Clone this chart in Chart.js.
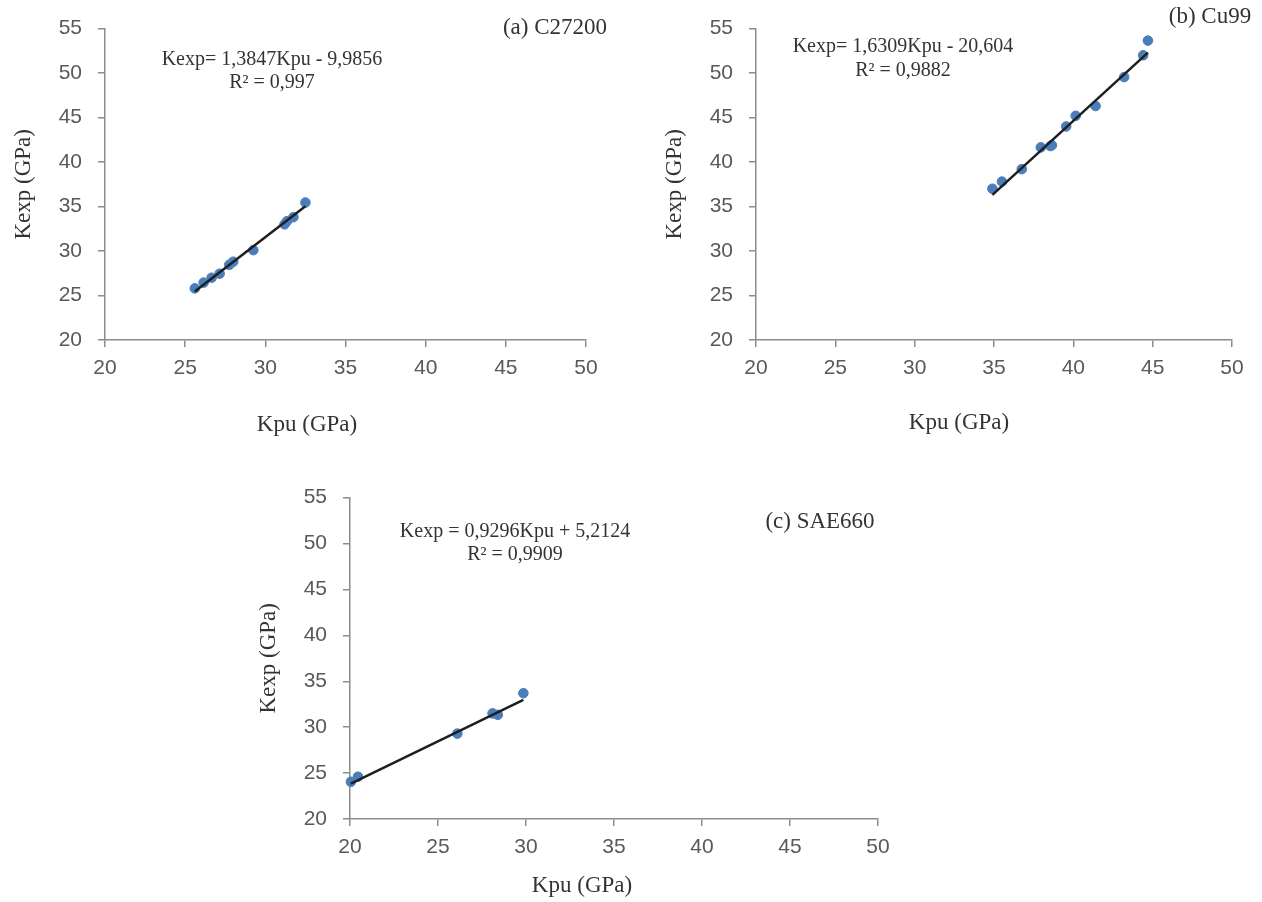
<!DOCTYPE html>
<html>
<head>
<meta charset="utf-8">
<script src="https://cdn.jsdelivr.net/npm/chart.js@4.4.1/dist/chart.umd.min.js"></script>
<style>
  body { margin: 0; background: #fff; width: 1262px; height: 902px; overflow: hidden; position: relative; }
  canvas { position: absolute; }
</style>
</head>
<body>
<canvas id="chartA" width="620" height="450" style="left:0px;top:0px"></canvas>
<canvas id="chartB" width="611" height="450" style="left:651px;top:0px"></canvas>
<canvas id="chartC" width="660" height="433" style="left:245px;top:469px"></canvas>
<script>
// (a) C27200
const kpuA = [25.6, 26.15, 26.65, 27.15, 27.75, 28.0, 29.25, 31.2, 31.35, 31.75, 32.5];
const kexpA = [25.8, 26.45, 27.0, 27.45, 28.45, 28.8, 30.1, 33.0, 33.35, 33.8, 35.45];
const trendKpuA = [25.6, 32.5];
const trendKexpA = [25.46, 35.02];

// (b) Cu99
const kpuB = [34.9, 35.5, 36.75, 37.95, 38.55, 38.65, 39.55, 40.15, 41.4, 43.2, 44.4, 44.7];
const kexpB = [37.0, 37.8, 39.2, 41.65, 41.8, 41.9, 44.0, 45.2, 46.3, 49.55, 52.0, 53.65];
const trendKpuB = [34.9, 44.7];
const trendKexpB = [36.31, 52.3];

// (c) SAE660
const kpuC = [20.05, 20.45, 26.1, 28.1, 28.4, 29.85];
const kexpC = [24.05, 24.6, 29.3, 31.5, 31.35, 33.7];
const trendKpuC = [20.05, 29.85];
const trendKexpC = [23.85, 32.96];

const xTicks = [20, 25, 30, 35, 40, 45, 50];
const yTicks = [20, 25, 30, 35, 40, 45, 50, 55];

const serif = '"Liberation Serif", "Times New Roman", serif';
const sans = '"Liberation Sans", Arial, sans-serif';
const axisGrey = '#8c8c8c';

// draws the free texts (equations, panel label, x axis title)
function notes(items) {
  return {
    id: 'notes',
    afterDraw(chart) {
      const c = chart.ctx;
      c.save();
      c.fillStyle = '#333';
      c.textAlign = 'center';
      c.textBaseline = 'middle';
      items.forEach(it => {
        c.font = it.size + 'px ' + serif;
        c.fillText(it.text, it.x, it.y);
      });
      c.restore();
    }
  };
}

function makeChart(id, kpu, kexp, tKpu, tKexp, padRight, xHeight, items) {
  const pts = kpu.map((v, i) => ({ x: v, y: kexp[i] }));
  const line = tKpu.map((v, i) => ({ x: v, y: tKexp[i] }));
  new Chart(document.getElementById(id), {
    type: 'scatter',
    data: {
      datasets: [
        {
          type: 'line',
          data: line,
          borderColor: '#1e1e1e',
          borderWidth: 2.5,
          pointRadius: 0,
          fill: false,
          clip: false,
          order: 0
        },
        {
          data: pts,
          backgroundColor: '#4a7ebb',
          borderColor: '#4a7ebb',
          pointRadius: 4.8,
          clip: false,
          order: 1
        }
      ]
    },
    options: {
      responsive: false,
      animation: false,
      layout: { padding: { left: 0, top: 25, right: padRight, bottom: 0 } },
      plugins: { legend: { display: false }, tooltip: { enabled: false } },
      scales: {
        x: {
          type: 'linear',
          min: xTicks[0],
          max: xTicks[xTicks.length - 1],
          afterBuildTicks: s => { s.ticks = xTicks.map(v => ({ value: v })); },
          afterFit: s => { s.height = xHeight; },
          ticks: { color: '#595959', font: { family: sans, size: 21 }, padding: 9, maxRotation: 0 },
          grid: { drawOnChartArea: false, drawTicks: true, tickLength: 7, color: axisGrey, lineWidth: 1.5 },
          border: { color: axisGrey, width: 1.5 }
        },
        y: {
          type: 'linear',
          min: yTicks[0],
          max: yTicks[yTicks.length - 1],
          afterBuildTicks: s => { s.ticks = yTicks.map(v => ({ value: v })); },
          afterFit: s => { s.width = 105; },
          ticks: { color: '#595959', font: { family: sans, size: 21 }, padding: 16 },
          grid: { drawOnChartArea: false, drawTicks: true, tickLength: 7, color: axisGrey, lineWidth: 1.5 },
          border: { color: axisGrey, width: 1.5 },
          title: { display: true, text: 'Kexp (GPa)', color: '#333', font: { family: serif, size: 23 }, padding: { top: 10, bottom: 0 } }
        }
      }
    },
    plugins: [notes(items)]
  });
}

makeChart('chartA', kpuA, kexpA, trendKpuA, trendKexpA, 34, 110, [
  { text: 'Kexp= 1,3847Kpu - 9,9856', x: 272, y: 60, size: 20 },
  { text: 'R² = 0,997', x: 272, y: 83, size: 20 },
  { text: '(a) C27200', x: 555, y: 28, size: 23 },
  { text: 'Kpu (GPa)', x: 307, y: 425, size: 23 }
]);

makeChart('chartB', kpuB, kexpB, trendKpuB, trendKexpB, 30, 110, [
  { text: 'Kexp= 1,6309Kpu - 20,604', x: 252, y: 47, size: 20 },
  { text: 'R² = 0,9882', x: 252, y: 71, size: 20 },
  { text: '(b) Cu99', x: 559, y: 17, size: 23 },
  { text: 'Kpu (GPa)', x: 308, y: 423, size: 23 }
]);

makeChart('chartC', kpuC, kexpC, trendKpuC, trendKexpC, 27, 83, [
  { text: 'Kexp = 0,9296Kpu + 5,2124', x: 270, y: 63, size: 20 },
  { text: 'R² = 0,9909', x: 270, y: 86, size: 20 },
  { text: '(c) SAE660', x: 575, y: 53, size: 23 },
  { text: 'Kpu (GPa)', x: 337, y: 417, size: 23 }
]);
</script>
</body>
</html>
